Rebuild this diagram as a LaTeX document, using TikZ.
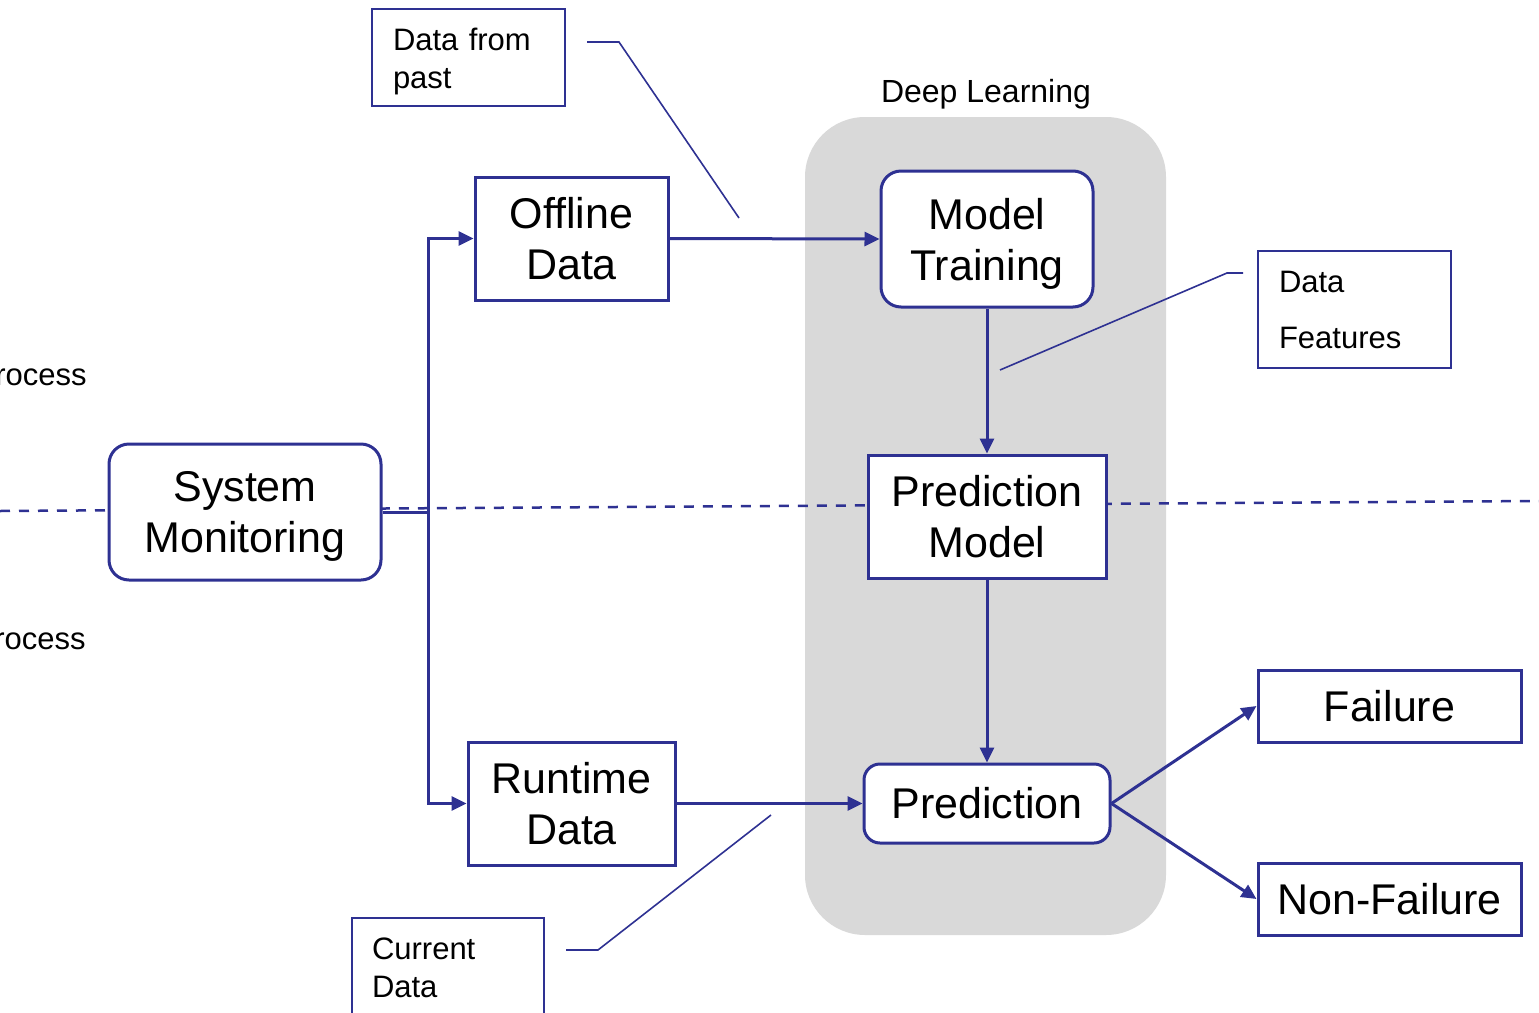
\documentclass[tikz,border=0pt]{standalone}
\usepackage{fontspec}
\setmainfont{Liberation Sans}
\usetikzlibrary{arrows.meta}
\definecolor{dlblue}{RGB}{46,49,146}
\definecolor{dlgray}{RGB}{217,217,217}
\begin{document}
\begin{tikzpicture}[x=0.5pt,y=-0.5pt,
  mainbox/.style={draw=dlblue,line width=1.5pt,fill=white,align=center,inner sep=0pt,
     font=\fontsize{21.5}{25.5}\selectfont},
  roundbox/.style={mainbox,rounded corners=10pt},
  callbox/.style={draw=dlblue,line width=1pt,fill=white,align=left,inner xsep=10.5pt,inner ysep=0pt,
     text width=75.5pt,minimum width=96.5pt,font=\fontsize{15.5}{19}\selectfont},
  callline/.style={draw=dlblue,line width=0.8pt},
  conn/.style={draw=dlblue,line width=1.5pt,-{Triangle[length=7.5pt,width=7pt]}},
  lbl/.style={inner sep=0pt,font=\fontsize{15.5}{17}\selectfont}]
\useasboundingbox (0,0) rectangle (1539,1013);
% deep learning area
\fill[dlgray,rounded corners=30pt] (805,117) rectangle (1166,935);
\node[lbl,font=\fontsize{16}{18}\selectfont] (dltxt) at (986,94) {Deep Learning};
% dashed separator
\coordinate (dashL) at (0,511);
\coordinate (dashR) at (1539,501);
\draw[dlblue,line width=1.25pt,dash pattern=on 5pt off 4.5pt] (dashL) -- (dashR);
% side labels
\node[lbl,anchor=east] (proc1) at (87,377) {rocess};
\node[lbl,anchor=east] (proc2) at (86,641) {rocess};
% main nodes
\node[mainbox,minimum width=96.5pt,minimum height=61.5pt] (od) at (571.5,238.5) {Offline\\Data};
\node[roundbox,text depth=0pt,minimum width=106pt,minimum height=68pt] (mt) at (987,239) {Model\\Training};
\node[mainbox,minimum width=119pt,minimum height=61.5pt] (pm) at (987,516.5) {Prediction\\Model};
\node[roundbox,rounded corners=8pt,minimum width=123pt,minimum height=39.5pt] (pred) at (987,803.5) {Prediction};
\node[mainbox,minimum width=103.5pt,minimum height=61.5pt] (rd) at (571.5,803.5) {Runtime\\Data};
\node[roundbox,text depth=0pt,minimum width=136pt,minimum height=68pt] (sm) at (245,512) {System\\Monitoring};
\node[mainbox,minimum width=131.5pt,minimum height=36pt] (fail) at (1389.5,706) {Failure};
\node[mainbox,minimum width=131.5pt,minimum height=36pt] (nfail) at (1389.5,899) {Non-Failure};
% callout boxes
\node[callbox,minimum height=48.5pt] (dfp) at (468.5,57.5) {\rule{0pt}{15.3pt}Data from\\past};
\node[callbox,minimum height=58.5pt,font=\fontsize{15.5}{28}\selectfont] (dfeat) at (1354.5,309.5) {Data\\Features};
\node[callbox,minimum width=96pt,text width=76pt,inner xsep=10pt,minimum height=50pt] (cur) at (448,968) {Current\\Data};
% connectors
\coordinate (jn) at (428,512);
\draw[dlblue,line width=1.5pt] (sm.east) -- (jn);
\draw[conn] (jn) |- (od.west);
\draw[conn] (jn) |- (rd.west);
\draw[conn] (od.east) -- (mt.west);
\draw[conn] (mt.south) -- (pm.north);
\draw[conn] (pm.south) -- (pred.north);
\draw[conn] (rd.east) -- (pred.west);
\draw[conn] (pred.east) -- (fail.west);
\draw[conn] (pred.east) -- (nfail.west);
% callout lines
\coordinate (c1a) at (587,42); \coordinate (c1b) at (619,42); \coordinate (c1c) at (739,218);
\draw[callline] (c1a) -- (c1b) -- (c1c);
\coordinate (c2a) at (1243,273); \coordinate (c2b) at (1227,273); \coordinate (c2c) at (1000,370);
\draw[callline] (c2a) -- (c2b) -- (c2c);
\coordinate (c3a) at (566,950); \coordinate (c3b) at (598,950); \coordinate (c3c) at (771,815);
\draw[callline] (c3a) -- (c3b) -- (c3c);
\end{tikzpicture}
\end{document}
